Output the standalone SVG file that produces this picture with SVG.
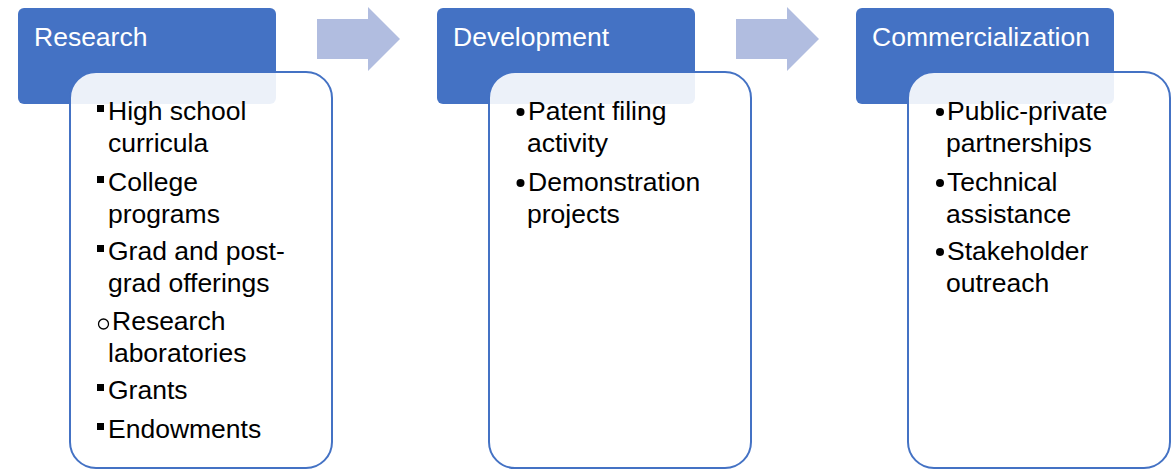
<svg xmlns="http://www.w3.org/2000/svg" width="1174" height="470" viewBox="0 0 1174 470">
<style>
.hdr{fill:#4472c4;}
.hdrt{fill:#ffffff;font-family:"Liberation Sans",Arial,sans-serif;font-size:26.5px;}
.body{fill:#ffffff;fill-opacity:0.9;stroke:#4472c4;stroke-width:2;}
.t{fill:#000000;font-family:"Liberation Sans",Arial,sans-serif;font-size:26.5px;}
.arr{fill:#b1bde0;}
</style>
<rect width="1174" height="470" fill="#ffffff"/>
<g id="connectors">
<polygon class="arr" points="317,19 368,19 368,7 400,39 368,71 368,59 317,59"/>
<polygon class="arr" points="736,19 787,19 787,7 819,39 787,71 787,59 736,59"/>
</g>
<g id="research">
<rect class="hdr" x="18" y="8" width="258" height="96" rx="6"/>
<text class="hdrt" x="34" y="46">Research</text>
</g>
<g id="research-list">
<rect class="body" x="70" y="72" width="262" height="396" rx="26"/>
<rect x="97" y="105" width="7" height="7" fill="#000"/>
<text class="t" x="108" y="120">High school</text>
<text class="t" x="108" y="152">curricula</text>
<rect x="97" y="176" width="7" height="7" fill="#000"/>
<text class="t" x="108" y="191">College</text>
<text class="t" x="108" y="223">programs</text>
<rect x="97" y="245" width="7" height="7" fill="#000"/>
<text class="t" x="108" y="260">Grad and post-</text>
<text class="t" x="108" y="292">grad offerings</text>
<circle cx="103.5" cy="324" r="5" fill="none" stroke="#000" stroke-width="1.3"/>
<text class="t" x="112" y="330">Research</text>
<text class="t" x="108" y="362">laboratories</text>
<rect x="97" y="384" width="7" height="7" fill="#000"/>
<text class="t" x="108" y="399">Grants</text>
<rect x="97" y="423" width="7" height="7" fill="#000"/>
<text class="t" x="108" y="438">Endowments</text>
</g>
<g id="development">
<rect class="hdr" x="437" y="8" width="258" height="96" rx="6"/>
<text class="hdrt" x="453" y="46">Development</text>
</g>
<g id="development-list">
<rect class="body" x="489" y="72" width="262" height="396" rx="26"/>
<circle cx="520.5" cy="112" r="4" fill="#000"/>
<text class="t" x="528" y="120">Patent filing</text>
<text class="t" x="527" y="152">activity</text>
<circle cx="520.5" cy="183" r="4" fill="#000"/>
<text class="t" x="528" y="191">Demonstration</text>
<text class="t" x="527" y="223">projects</text>
</g>
<g id="commercialization">
<rect class="hdr" x="856" y="8" width="258" height="96" rx="6"/>
<text class="hdrt" x="872" y="46">Commercialization</text>
</g>
<g id="commercialization-list">
<rect class="body" x="908" y="72" width="262" height="396" rx="26"/>
<circle cx="940" cy="112" r="4" fill="#000"/>
<text class="t" x="947" y="120">Public-private</text>
<text class="t" x="946" y="152">partnerships</text>
<circle cx="940" cy="183" r="4" fill="#000"/>
<text class="t" x="947" y="191">Technical</text>
<text class="t" x="946" y="223">assistance</text>
<circle cx="940" cy="252" r="4" fill="#000"/>
<text class="t" x="947" y="260">Stakeholder</text>
<text class="t" x="946" y="292">outreach</text>
</g>
</svg>
